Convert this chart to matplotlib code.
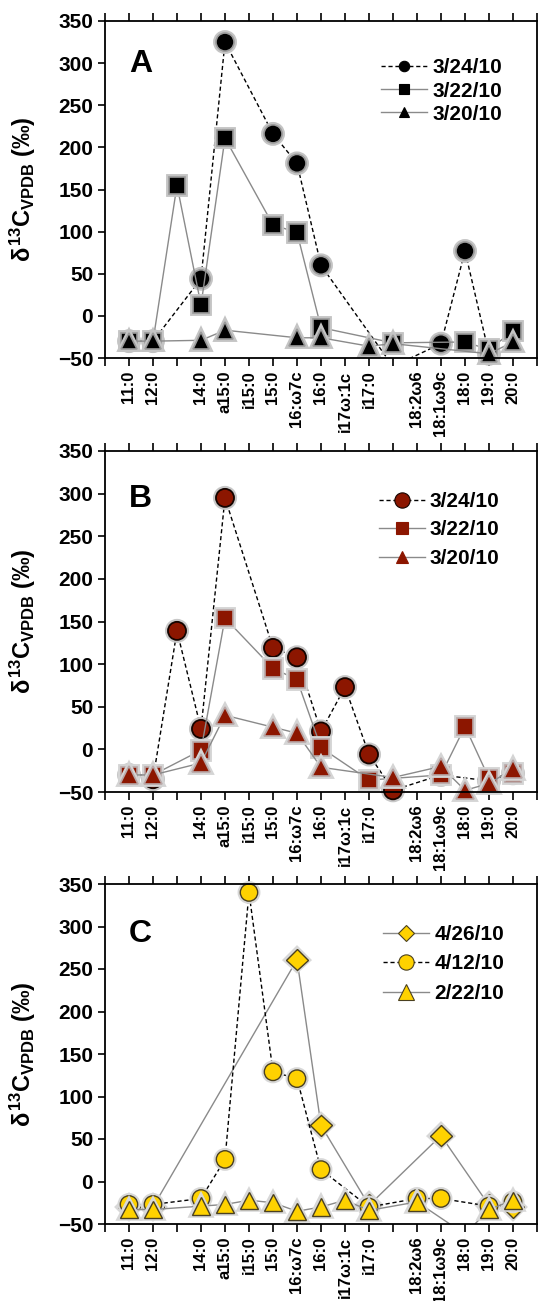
import numpy as np
import matplotlib
matplotlib.use("Agg")
import matplotlib.pyplot as plt
import matplotlib.patheffects as pe
from matplotlib.lines import Line2D

plt.rcParams['font.family'] = ['Liberation Sans', 'DejaVu Sans']
plt.rcParams['font.weight'] = 'bold'
plt.rcParams['mathtext.fontset'] = 'custom'
plt.rcParams['mathtext.rm'] = 'Liberation Sans:bold'
plt.rcParams['mathtext.it'] = 'Liberation Sans:bold'
plt.rcParams['mathtext.bf'] = 'Liberation Sans:bold'

nan = np.nan

# fatty acid categories (blank slots are unlabeled positions)
labels = ['11:0', '12:0', '', '14:0', 'a15:0', 'i15:0', '15:0', '16:ω7c', '16:0',
          'i17ω:1c', 'i17:0', '', '18:2ω6', '18:1ω9c', '18:0', '19:0', '20:0']

# panel A
a_names = ['3/24/10', '3/22/10', '3/20/10']
a_0324 = [-30, -30, nan, 44, 325, nan, 216, 181, 60, nan, nan, -60, nan, -33, 77, -45, nan]
a_0322 = [-30, -30, 155, 13, 211, nan, 108, 99, -14, nan, nan, -32, nan, nan, -31, -40, -18]
a_0320 = [-30, -30, nan, -29, -17, nan, nan, -26, -26, nan, -36, -33, nan, nan, nan, -45, -31]

# panel B
b_names = ['3/24/10', '3/22/10', '3/20/10']
b_0324 = [-30, -35, 139, 24, 295, nan, 119, 108, 21, 73, -6, -48, nan, -30, nan, -37, -28]
b_0322 = [-30, -30, nan, -1, 154, nan, 95, 82, 2, nan, -36, nan, nan, -30, 27, -34, -28]
b_0320 = [-30, -30, nan, -16, 40, nan, 26, 19, -21, nan, nan, -33, nan, -20, -48, -40, -23]

# panel C
c_names = ['4/26/10', '4/12/10', '2/22/10']
c_0426 = [-30, -30, nan, nan, nan, nan, nan, 261, 66, nan, -28, nan, nan, 54, nan, -28, -30]
c_0412 = [-27, -27, nan, -20, 26, 340, 129, 121, 14, nan, -30, nan, -20, -20, nan, -29, -24]
c_0222 = [-33, -33, nan, -29, -27, -22, -25, -35, -30, -22, -34, nan, -24, nan, -62, -33, -22]

GRAY = '#8a8a8a'
DASH = (0, (3, 2))
YMIN, YMAX = -50, 350


def draw_panel(ax, letter, series, names, styles, leg_anchor, leg_spacing):
    x = np.arange(1, len(labels) + 1)
    handles = []
    for vals, name, st in zip(series, names, styles):
        y = np.array(vals, dtype=float)
        ok = ~np.isnan(y)
        ls = DASH if st['dashed'] else '-'
        lc = 'black' if st['dashed'] else GRAY
        ax.plot(x[ok], y[ok], linestyle=ls, color=lc, lw=1.0)
        # points below the axis floor are hidden, as in the original
        vis = ok & (y >= YMIN - 3)
        ax.plot(x[vis], y[vis], linestyle='none', marker=st['marker'], ms=st['ms'],
                mfc=st['face'], mec=st['edge'], mew=st['mew'], clip_on=False,
                path_effects=[pe.Stroke(linewidth=st['mew'] + 3, foreground=st['glow']),
                              pe.Normal()])
        handles.append(Line2D([], [], linestyle=ls, color=lc, lw=1.0, marker=st['marker'],
                              ms=st['lms'], mfc=st['face'], mec=st['ledge'], mew=0.8,
                              label=name))

    ax.set_xlim(0, len(labels) + 1)
    ax.set_ylim(YMIN, YMAX)
    ax.set_yticks(np.arange(-50, 351, 50))
    ax.set_xticks(np.arange(0, len(labels) + 2))
    ax.set_xticklabels([''] + labels + [''], rotation=90, fontsize=12, fontweight='bold')
    ax.tick_params(axis='x', which='both', direction='out', length=6, width=1.2,
                   top=True, pad=3)
    ax.tick_params(axis='y', direction='out', length=5, width=1.2, labelsize=15)
    for s in ax.spines.values():
        s.set_linewidth(1.3)
    ax.text(0.055, letter[1], letter[0], transform=ax.transAxes, fontsize=23,
            fontweight='bold', ha='left', va='center')
    ax.set_ylabel(r'$\delta^{13}C_{VPDB}$ (‰)', fontsize=17, fontweight='bold')
    ax.yaxis.set_label_coords(-0.155, 0.5)
    ax.legend(handles=handles, loc='upper left', bbox_to_anchor=leg_anchor,
              frameon=False, fontsize=15, borderpad=0, handlelength=2.2,
              handletextpad=0.25, labelspacing=leg_spacing)


fig = plt.figure(figsize=(5.4, 13.01), dpi=100)
W, H = 540, 1301
axA = fig.add_axes([105 / W, 1 - 358 / H, 432 / W, 337 / H])
axB = fig.add_axes([105 / W, 1 - 792 / H, 432 / W, 341 / H])
axC = fig.add_axes([105 / W, 1 - 1224 / H, 432 / W, 340 / H])

black_glow = '#c4c4c4'
sA = [dict(marker='o', ms=13, face='black', edge='#9a9a9a', mew=1.2, glow=black_glow,
           dashed=True, lms=7.5, ledge='black'),
      dict(marker='s', ms=12, face='black', edge='#9a9a9a', mew=1.2, glow=black_glow,
           dashed=False, lms=7, ledge='black'),
      dict(marker='^', ms=12, face='black', edge='#9a9a9a', mew=1.2, glow=black_glow,
           dashed=False, lms=6.5, ledge='black')]

red = '#8c1600'
sB = [dict(marker='o', ms=13, face=red, edge='#150400', mew=1.3, glow='#c8c8c8',
           dashed=True, lms=11, ledge='#150400'),
      dict(marker='s', ms=12, face=red, edge='#b9a8a8', mew=1.2, glow='#d4d4d4',
           dashed=False, lms=9, ledge=red),
      dict(marker='^', ms=12.5, face=red, edge='#b9a8a8', mew=1.2, glow='#d4d4d4',
           dashed=False, lms=8, ledge=red)]

gold = '#ffd200'
gedge = '#4a4020'
sC = [dict(marker='D', ms=11, face=gold, edge=gedge, mew=1.0, glow='#d8d8d8',
           dashed=False, lms=8.5, ledge=gedge),
      dict(marker='o', ms=12.5, face=gold, edge=gedge, mew=1.0, glow='#d8d8d8',
           dashed=True, lms=11, ledge=gedge),
      dict(marker='^', ms=12.5, face=gold, edge=gedge, mew=1.0, glow='#d8d8d8',
           dashed=False, lms=11, ledge=gedge)]

draw_panel(axA, ('A', 0.872), [a_0324, a_0322, a_0320], a_names, sA, (0.615, 0.92), 0.2)
draw_panel(axB, ('B', 0.859), [b_0324, b_0322, b_0320], b_names, sB, (0.61, 0.91), 0.45)
draw_panel(axC, ('C', 0.853), [c_0426, c_0412, c_0222], c_names, sC, (0.62, 0.91), 0.5)

fig.savefig('out.png', dpi=100)
